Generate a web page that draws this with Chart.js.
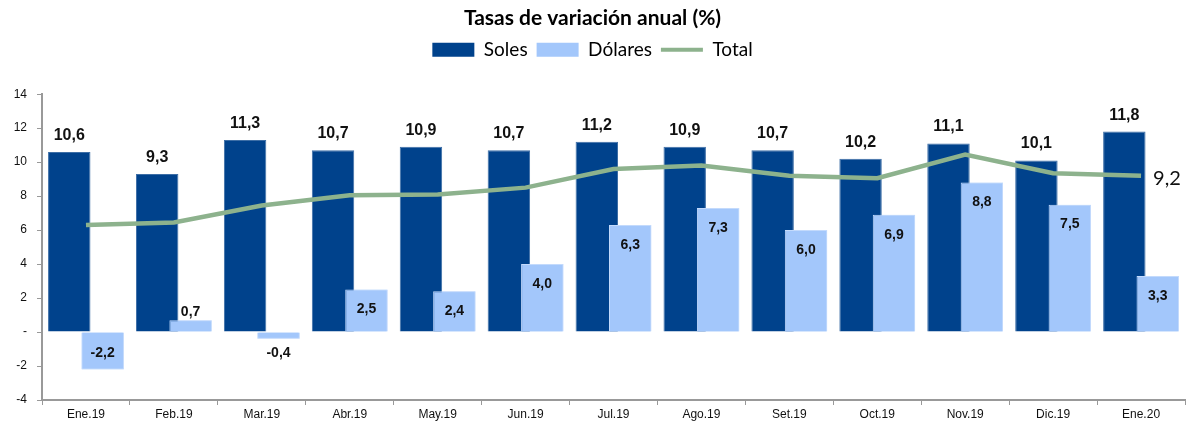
<!DOCTYPE html>
<html>
<head>
<meta charset="utf-8">
<script src="https://cdn.jsdelivr.net/npm/chart.js@4/dist/chart.umd.min.js"></script>
<style>
  html, body { margin: 0; padding: 0; background: #fff; }
  #wrap { width: 1188px; height: 423px; }
</style>
</head>
<body>
<div id="wrap"><canvas id="grafico"></canvas></div>
<script>
// datos
var meses = ['Ene.19', 'Feb.19', 'Mar.19', 'Abr.19', 'May.19', 'Jun.19', 'Jul.19', 'Ago.19', 'Set.19', 'Oct.19', 'Nov.19', 'Dic.19', 'Ene.20'];
var soles = [10.6, 9.3, 11.3, 10.7, 10.9, 10.7, 11.2, 10.9, 10.7, 10.2, 11.1, 10.1, 11.8];
var dolares = [-2.2, 0.7, -0.4, 2.5, 2.4, 4.0, 6.3, 7.3, 6.0, 6.9, 8.8, 7.5, 3.3];
var total = [6.3, 6.45, 7.45, 8.05, 8.1, 8.5, 9.6, 9.8, 9.2, 9.05, 10.45, 9.35, 9.2];
var ticksY = [-4, -2, 0, 2, 4, 6, 8, 10, 12, 14];

function coma(v) {
	return v.toFixed(1).replace('.', ',');
}

// Dolares se vuelve a dibujar despues de Soles para quedar encima
var encima = {
	id: 'encima',
	afterDatasetDraw: function(chart, args) {
		if (args.index === 0) {
			chart.getDatasetMeta(1).controller.draw();
		}
	}
};

// etiquetas de datos
var etiquetas = {
	id: 'etiquetas',
	afterDatasetsDraw: function(chart) {
		var ctx = chart.ctx;
		var y0 = chart.scales.y.getPixelForValue(0);
		ctx.save();
		ctx.fillStyle = '#111';
		ctx.textAlign = 'center';

		// soles
		ctx.font = 'bold 16px "Liberation Sans", Arial, sans-serif';
		ctx.textBaseline = 'alphabetic';
		chart.getDatasetMeta(0).data.forEach(function(bar, i) {
			ctx.fillText(coma(soles[i]), bar.x, bar.y - 12);
		});

		// dolares
		ctx.font = 'bold 14px "Liberation Sans", Arial, sans-serif';
		ctx.textBaseline = 'middle';
		chart.getDatasetMeta(1).data.forEach(function(bar, i) {
			var v = dolares[i];
			var y;
			if (v < 0) y = y0 + 21;
			else if (v < 1.5) y = bar.y - 8;
			else y = bar.y + 20;
			ctx.fillText(coma(v), bar.x, y);
		});

		// total: solo el ultimo punto
		var pts = chart.getDatasetMeta(2).data;
		var last = pts[pts.length - 1];
		ctx.font = '20px Lato, sans-serif';
		ctx.textAlign = 'left';
		ctx.fillText(coma(total[total.length - 1]), last.x + 12, last.y + 3);
		ctx.restore();
	}
};

// alto fijo de la leyenda para ubicar el area del grafico
var altoLeyenda = {
	id: 'altoLeyenda',
	afterInit: function(chart) {
		var fit = chart.legend.fit;
		chart.legend.fit = function() {
			fit.call(this);
			this.height = 63;
		};
	}
};

var ctx = document.getElementById('grafico').getContext('2d');

window.grafico = new Chart(ctx, {
	type: 'bar',
	data: {
		labels: meses,
		datasets: [
			{
				label: 'Soles',
				data: soles,
				backgroundColor: '#00428C',
				borderColor: '#3d6ea6',
				borderWidth: 1,
				order: 2
			},
			{
				label: 'Dólares',
				data: dolares,
				backgroundColor: '#A3C7FB',
				borderColor: '#c3dafc',
				borderWidth: 1,
				order: 3
			},
			{
				label: 'Total',
				type: 'line',
				data: total,
				borderColor: '#8DB28D',
				backgroundColor: '#8DB28D',
				borderWidth: 4.5,
				pointRadius: 0,
				tension: 0,
				order: 1
			}
		]
	},
	plugins: [encima, etiquetas, altoLeyenda],
	options: {
		responsive: true,
		maintainAspectRatio: false,
		animation: false,
		categoryPercentage: 0.76,
		barPercentage: 1.27,
		layout: { padding: { left: 0, right: 3, top: 0, bottom: 0 } },
		plugins: {
			tooltip: { enabled: false },
			title: {
				display: true,
				text: 'Tasas de variación anual (%)',
				color: '#000',
				font: { family: 'Lato', size: 21, weight: 'bold' },
				padding: { top: 6, bottom: 0 }
			},
			legend: {
				display: true,
				labels: {
					color: '#000',
					font: { family: 'Lato', size: 19 },
					usePointStyle: true,
					pointStyleWidth: 42,
					boxHeight: 14,
					padding: 9,
					sort: function(a, b) { return a.datasetIndex - b.datasetIndex; },
					generateLabels: function(chart) {
						return chart.data.datasets.map(function(ds, i) {
							var linea = ds.type === 'line';
							return {
								text: ds.label,
								fillStyle: ds.backgroundColor,
								strokeStyle: linea ? ds.borderColor : ds.backgroundColor,
								lineWidth: linea ? 4 : 0,
								pointStyle: linea ? 'line' : 'rect',
								fontColor: '#000',
								datasetIndex: i
							};
						});
					}
				}
			}
		},
		scales: {
			x: {
				grid: {
					display: true,
					offset: true,
					drawOnChartArea: false,
					drawTicks: true,
					tickLength: 5,
					color: '#999'
				},
				border: { color: '#999', width: 2 },
				ticks: {
					color: '#111',
					font: { family: 'Liberation Sans', size: 12 },
					maxRotation: 0,
					autoSkip: false,
					padding: 2
				},
				afterFit: function(scale) { scale.height = 23; }
			},
			y: {
				min: -4,
				max: 14,
				afterBuildTicks: function(scale) {
					scale.ticks = ticksY.map(function(v) { return { value: v }; });
				},
				grid: {
					display: true,
					drawOnChartArea: false,
					drawTicks: true,
					tickLength: 5,
					color: '#999'
				},
				border: { color: '#999', width: 2 },
				ticks: {
					color: '#111',
					font: { family: 'Liberation Sans', size: 12 },
					padding: 10,
					callback: function(v) { return v === 0 ? '-' : v; }
				},
				afterFit: function(scale) { scale.width = 42; }
			}
		}
	}
});
</script>
</body>
</html>
